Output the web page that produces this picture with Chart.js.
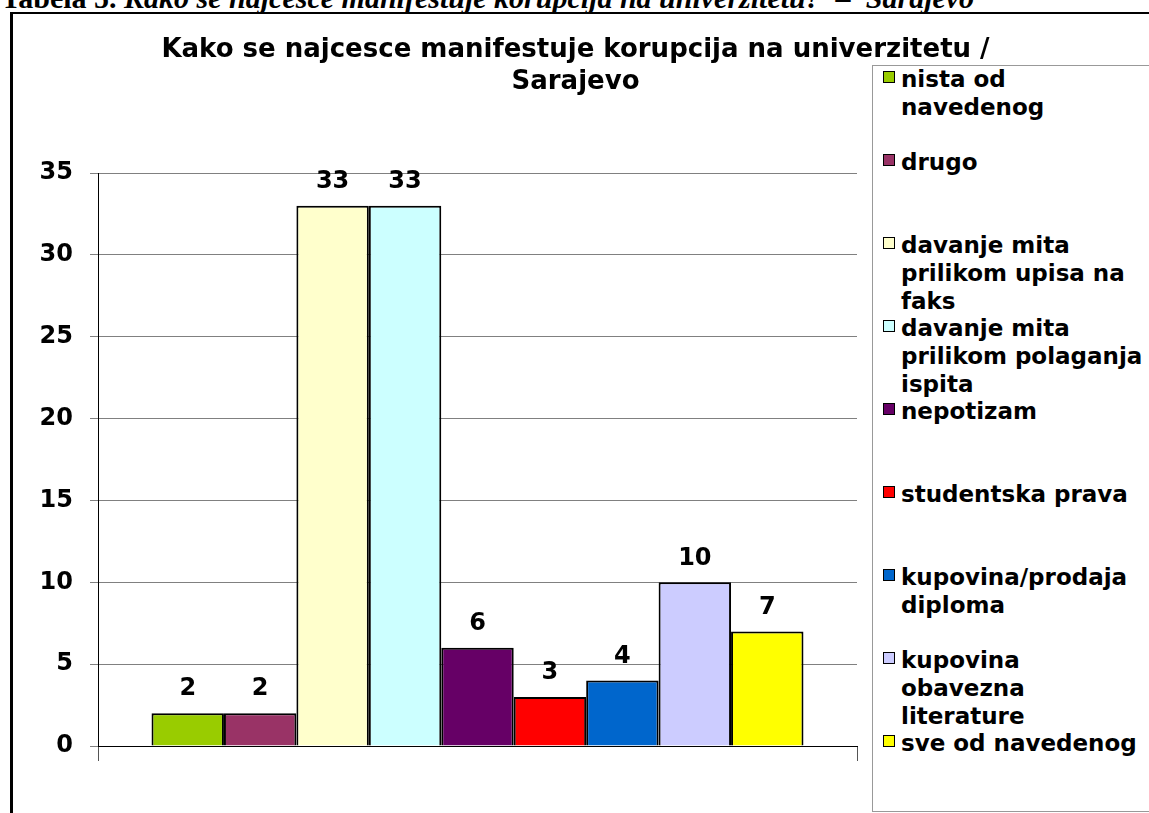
<!DOCTYPE html>
<html>
<head>
<meta charset="utf-8">
<script src="https://cdn.jsdelivr.net/npm/chart.js@4"></script>
<style>
  body { margin: 0; width: 1149px; height: 813px; overflow: hidden; background: #fff; position: relative; }
  #caption { position: absolute; left: 1px; top: -17px; font: bold italic 30px "Liberation Serif", serif; line-height: 29px; white-space: nowrap; }
  #caption b { font-style: normal; }
  #frame { position: absolute; left: 10px; top: 12px; width: 1200px; height: 900px; border-left: 3px solid #000; border-top: 2px solid #000; }
  #chart { position: absolute; left: 0; top: 0; }
  #legend { position: absolute; left: 872px; top: 65px; width: 300px; height: 745px; border: 1px solid #999; background: #fff; }
  .item { position: absolute; left: 10px; font: bold 23px "DejaVu Sans", sans-serif; line-height: 28px; color: #000; }
  .item .sw { position: absolute; left: 0; top: 6px; width: 10px; height: 10px; border: 1px solid #000; }
  .item .tx { margin-left: 18px; white-space: nowrap; }
</style>
</head>
<body>
<div id="caption"><b>Tabela 5.</b> Kako se najcesce manifestuje korupcija na univerzitetu? &nbsp;– &nbsp;Sarajevo</div>
<div id="frame"></div>
<canvas id="chart" width="1149" height="813"></canvas>
<div id="legend"></div>
<script>
// podaci
const naslov = ["Kako se najcesce manifestuje korupcija na univerzitetu /", "Sarajevo"];
const kategorije = [
  ["nista od", "navedenog"],
  ["drugo"],
  ["davanje mita", "prilikom upisa na", "faks"],
  ["davanje mita", "prilikom polaganja", "ispita"],
  ["nepotizam"],
  ["studentska prava"],
  ["kupovina/prodaja", "diploma"],
  ["kupovina", "obavezna", "literature"],
  ["sve od navedenog"]
];
const vrijednosti = [2, 2, 33, 33, 6, 3, 4, 10, 7];
const boje = ["#99CC00", "#993366", "#FFFFCC", "#CCFFFF", "#660066", "#FF0000", "#0066CC", "#CCCCFF", "#FFFF00"];
const yTicks = [0, 5, 10, 15, 20, 25, 30, 35];

const font = "'DejaVu Sans', sans-serif";

// vrijednosti iznad stubaca + naslov preko cijele slike
const oznake = {
  id: "oznake",
  afterDatasetsDraw(chart) {
    const ctx = chart.ctx;
    ctx.save();
    ctx.font = "bold 24px " + font;
    ctx.fillStyle = "#000";
    ctx.textAlign = "center";
    ctx.textBaseline = "middle";
    chart.data.datasets.forEach((ds, i) => {
      const bar = chart.getDatasetMeta(i).data[0];
      ctx.fillText(ds.data[0], bar.x, bar.y - 24);
    });
    ctx.font = "bold 26px " + font;
    naslov.forEach((t, i) => ctx.fillText(t, chart.width / 2 + 1, 50 + i * 32));
    ctx.restore();
  }
};

new Chart(document.getElementById("chart"), {
  type: "bar",
  data: {
    labels: [""],
    datasets: kategorije.map((k, i) => ({
      label: k.join(" "),
      data: [vrijednosti[i]],
      backgroundColor: boje[i],
      borderColor: "#000",
      borderWidth: 2,
      barPercentage: 1,
      categoryPercentage: 0.859
    }))
  },
  options: {
    responsive: false,
    animation: false,
    layout: { padding: { left: 0, right: 292, top: 173, bottom: 52 } },
    plugins: {
      legend: { display: false },
      tooltip: { enabled: false },
      title: { display: false }
    },
    scales: {
      x: {
        grid: { display: true, drawOnChartArea: false, drawTicks: true, tickLength: 15, color: "#555" },
        border: { display: true, color: "#000", width: 1 },
        ticks: { display: false },
        afterFit(scale) { scale.height = 15; }
      },
      y: {
        min: 0,
        max: 35,
        afterBuildTicks(scale) { scale.ticks = yTicks.map(v => ({ value: v })); },
        grid: { color: "#808080", tickLength: 8 },
        border: { display: true, color: "#000", width: 1 },
        ticks: { color: "#000", padding: 17, font: { family: font, size: 24, weight: "bold" } },
        afterFit(scale) { scale.width = 98; }
      }
    }
  },
  plugins: [oznake]
});

// legenda
const legenda = document.getElementById("legend");
const korak = 82.9;
kategorije.forEach((k, i) => {
  const el = document.createElement("div");
  el.className = "item";
  el.style.top = (80 - 65 - 15.6 + i * korak) + "px";
  el.innerHTML = '<div class="sw" style="background:' + boje[i] + '"></div><div class="tx">' + k.join("<br>") + "</div>";
  legenda.appendChild(el);
});
</script>
</body>
</html>
